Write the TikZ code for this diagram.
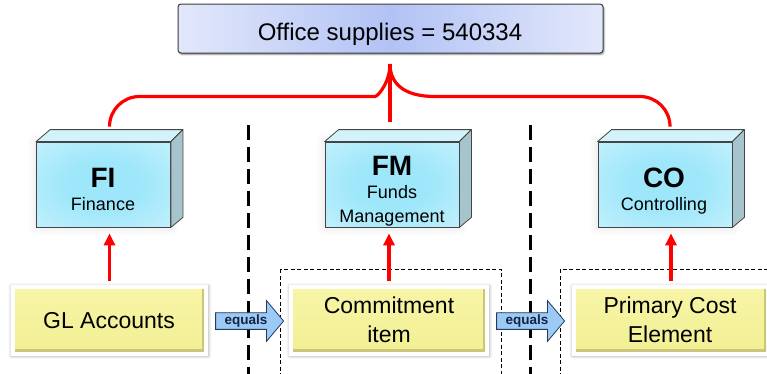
\documentclass[tikz,border=0pt]{standalone}
\usepackage{fontspec}
\setmainfont{Liberation Sans}
\usetikzlibrary{calc,shapes.arrows,shadows.blur,arrows.meta,backgrounds}

\definecolor{supEdge}{HTML}{E2E8FB}
\definecolor{supMid}{HTML}{B2C2F4}
\definecolor{boxLine}{HTML}{3C3C3C}
\definecolor{cubeIn}{HTML}{9EE7FA}
\definecolor{cubeOut}{HTML}{D6F5FD}
\definecolor{cubeTop}{HTML}{D3F3FB}
\definecolor{cubeSide}{HTML}{A6C4CC}
\definecolor{cubeLine}{HTML}{454545}
\definecolor{yelTop}{HTML}{F7F5A6}
\definecolor{yelBot}{HTML}{F2EF94}
\definecolor{yelDark}{HTML}{CBC67C}
\definecolor{arrowFill}{HTML}{9CCAF7}
\definecolor{arrowLine}{HTML}{243A5E}
\definecolor{arrowText}{HTML}{16243F}

% soft cyan glow for the cube fronts
\pgfdeclareradialshading{cubeglow}{\pgfpoint{0bp}{0bp}}{%
  color(0bp)=(cubeIn); color(14bp)=(cubeIn); color(48bp)=(cubeOut); color(75bp)=(cubeOut)}

\newcommand\supfont{\fontsize{24pt}{28pt}\selectfont}
\newcommand\modfont{\fontsize{28pt}{32pt}\selectfont\bfseries}
\newcommand\subfont{\fontsize{18pt}{22pt}\selectfont}
\newcommand\objfont{\fontsize{23pt}{27pt}\selectfont}
\newcommand\eqfont{\fontsize{13.5pt}{15pt}\selectfont\bfseries}

% top and side faces of a cube whose front face is node #1
\newcommand\cubefaces[1]{%
  \filldraw[cubetop] (#1.north west) -- ++(14,-12) -- ($(#1.north east)+(12,-12)$) -- (#1.north east) -- cycle;
  \filldraw[cubeside] (#1.north east) -- ++(12,-12) -- ($(#1.south east)+(12,-10)$) -- (#1.south east) -- cycle;}

\begin{document}
\begin{tikzpicture}[x=1pt,y=-1pt,
  topbox/.style={draw=boxLine, line width=1pt, rounded corners=3pt,
    shading=axis, left color=supEdge, right color=supEdge, middle color=supMid,
    minimum width=425pt, minimum height=49pt, inner sep=0pt,
    blur shadow={shadow xshift=1pt, shadow yshift=-1.5pt, shadow blur radius=1.5pt, shadow opacity=45}},
  cubefront/.style={draw=cubeLine, line width=0.8pt, shading=cubeglow,
    minimum width=134pt, minimum height=85pt, inner sep=0pt,
    blur shadow={shadow xshift=0pt, shadow yshift=0pt, shadow blur radius=9pt, shadow opacity=12}},
  cubetop/.style={draw=cubeLine, line width=0.8pt, fill=cubeTop, line join=round},
  cubeside/.style={draw=cubeLine, line width=0.8pt, fill=cubeSide, line join=round},
  ybox/.style={shading=axis, top color=yelTop, bottom color=yelBot,
    minimum height=62pt, inner sep=0pt},
  yframe/.style={fill=white,
    blur shadow={shadow xshift=0.5pt, shadow yshift=-0.5pt, shadow blur radius=3pt, shadow opacity=30}},
  bevel/.style={draw=yelDark, line width=2.5pt},
  label/.style={anchor=base, inner sep=0pt},
  redline/.style={draw=red, line width=3.2pt},
  redarrow/.style={draw=red, line width=3.2pt, -{Triangle[length=12pt,width=11pt]}},
  bigdash/.style={draw=black, line width=3pt, dash pattern=on 15pt off 7pt},
  thindash/.style={draw=black, line width=0.9pt, dash pattern=on 4pt off 2.5pt},
  eqarrow/.style={single arrow, single arrow head extend=12pt, single arrow tip angle=100,
    minimum height=68pt, draw=arrowLine, fill=arrowFill, line width=0.8pt,
    inner xsep=1.5pt, inner ysep=1.8pt, text height=9.5pt, text depth=2.8pt,
    font=\eqfont, text=arrowText}]

\useasboundingbox (0,0) rectangle (767,373);
\clip (0,0) rectangle (767,373);

% group frames and separators
\draw[thindash] (280,269) rectangle (501,390);
\draw[thindash] (560,269) rectangle (790,390);
\draw[bigdash] (248,125) -- (248,380);
\draw[bigdash] (530,125) -- (530,380);

% account assignment at the top
\node[topbox] (sup) at (390.5,28.5) {};
\node[label, font=\supfont] (supT) at (390,40) {Office supplies = 540334};

% modules
\node[cubefront] (fi) at (103.5,184.5) {};
\node[cubefront] (fm) at (392,184.5) {};
\node[cubefront] (co) at (665,184.5) {};
\cubefaces{fi}
\cubefaces{fm}
\cubefaces{co}
\node[label, font=\modfont] (fiT) at (103,187) {FI};
\node[label, font=\subfont] (fiS) at (103,210) {Finance};
\node[label, font=\modfont] (fmT) at (392,175) {FM};
\node[label, font=\subfont] (fmS1) at (392,198) {Funds};
\node[label, font=\subfont] (fmS2) at (392,222) {Management};
\node[label, font=\modfont] (coT) at (664,187) {CO};
\node[label, font=\subfont] (coS) at (664,210) {Controlling};

% master data objects
\node[ybox, minimum width=189pt] (gl) at (109.5,320.5) {};
\node[ybox, minimum width=192pt] (ci) at (389,320.5) {};
\node[ybox, minimum width=190pt] (pc) at (671,320.5) {};
\begin{scope}[on background layer]
  \foreach \b in {gl,ci,pc}
    \path[yframe] ($(\b.north west)+(-4,-4)$) rectangle ($(\b.south east)+(4,4)$);
\end{scope}
\foreach \b in {gl,ci,pc}
  \draw[bevel] ($(\b.south west)+(0,-1.25)$) -- ($(\b.south east)+(-1.25,-1.25)$) -- ($(\b.north east)+(-1.25,0)$);
\node[label, font=\objfont] (glT) at (109,328) {GL Accounts};
\node[label, font=\objfont] (ciT1) at (389,313) {Commitment};
\node[label, font=\objfont] (ciT2) at (389,342) {item};
\node[label, font=\objfont] (pcT1) at (670,313) {Primary Cost};
\node[label, font=\objfont] (pcT2) at (670,342) {Element};

% equivalence arrows
\node[eqarrow, anchor=tail] (eq1) at ($(gl.east)+(11,0.5)$) {equals};
\node[eqarrow, anchor=tail] (eq2) at ($(ci.east)+(11,0.5)$) {equals};

% red links
\coordinate (split) at (390,64);
\coordinate (hL) at (345,96.5);
\coordinate (hR) at (435,96.5);
\coordinate (fiTop) at ($(gl.north |- fi.north)+(0,-16)$);
\coordinate (coTop) at ($(pc.north |- co.north)+(-1,-17)$);
\coordinate (fmTop) at ($(split |- fm.north)+(0,-20)$);
\draw[redline] (fiTop) [rounded corners=30pt] |- (hL) [sharp corners]
  .. controls (378,96.5) and (390,82) .. (split)
  .. controls (390,82) and (402,96.5) .. (hR) [rounded corners=30pt] -| (coTop);
\draw[redline] (split) -- (fmTop);
\draw[redarrow, shorten <=8pt, shorten >=6pt] (gl.north) -- (gl.north |- fi.south);
\draw[redarrow, shorten <=8pt, shorten >=6pt] (ci.north) -- (ci.north |- fm.south);
\draw[redarrow, shorten <=8pt, shorten >=6pt] (pc.north) -- (pc.north |- co.south);
\end{tikzpicture}
\end{document}
